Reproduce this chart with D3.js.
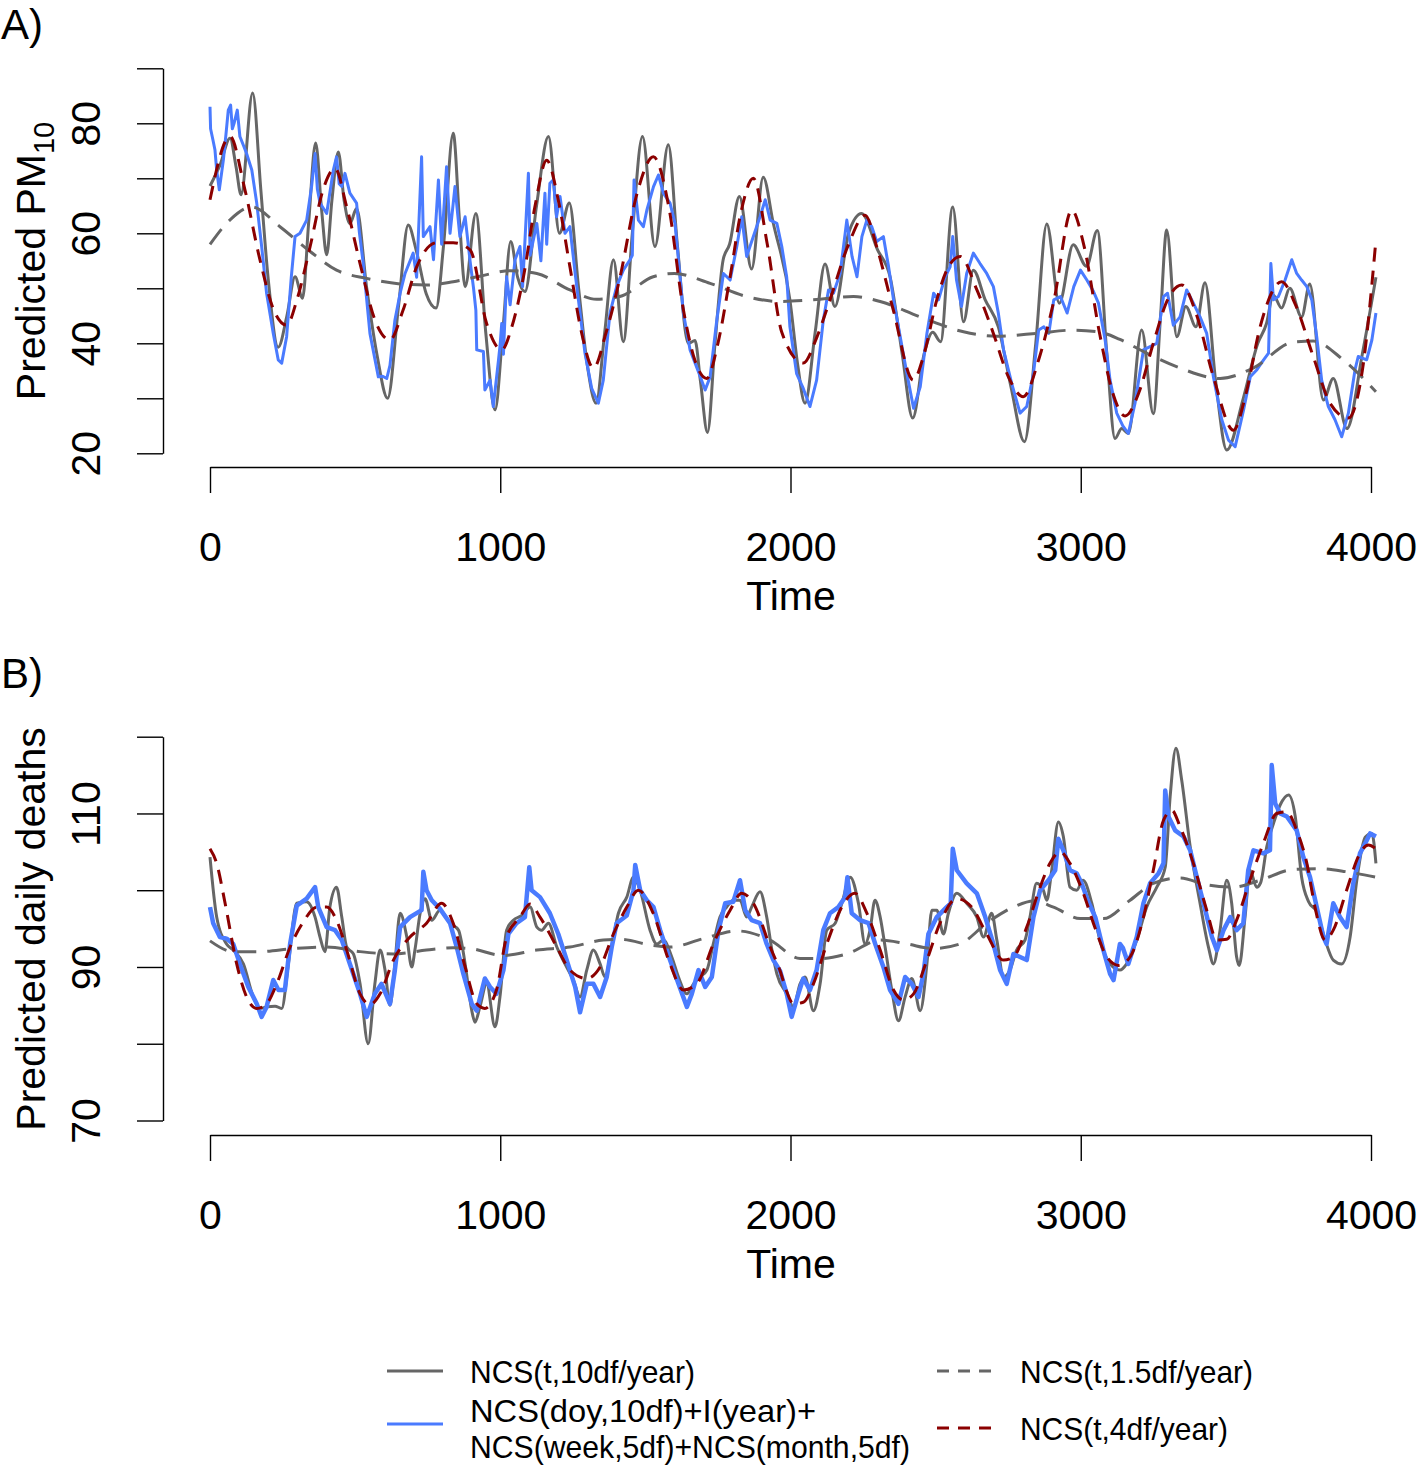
<!DOCTYPE html>
<html><head><meta charset="utf-8">
<script src="https://cdn.jsdelivr.net/npm/d3@7"></script>
<style>
body{margin:0;background:#fff}
svg{display:block}
text{font-family:"Liberation Sans",Arial,Helvetica,sans-serif;fill:#000}
</style>
</head><body>
<svg id="c" width="1418" height="1465"></svg>
<script>
// ---------------- DATA ----------------
const xTicks = [0, 1000, 2000, 3000, 4000];
const pmTicks = [20, 30, 40, 50, 60, 70, 80, 90];
const pmTickLabels = [20, 40, 60, 80];
const ddTicks = [70, 80, 90, 100, 110, 120];
const ddTickLabels = [70, 90, 110];

const seriesNames = ["NCS(t,10df/year)", "NCS(doy,10df)+I(year)+|NCS(week,5df)+NCS(month,5df)", "NCS(t,1.5df/year)", "NCS(t,4df/year)"];

// Panel A: predicted PM10
const pm_ncs10 = [[0,68.6],[35,72.5],[69,77.3],[90,72],[107,67.0],[147,85.5],[175,68],[200,52],[235,39.3],[265,45],[293,52.1],[319,48.2],[340,62],[364,76.4],[385,64],[402,56.1],[420,66],[442,74.8],[462,66],[482,61.8],[505,64.5],[540,50],[575,38],[612,30.0],[650,47],[683,61.5],[710,57],[745,49],[779,46.4],[805,58],[838,78.2],[860,62],[879,50.3],[916,63.6],[950,42],[982,27.9],[1010,43],[1036,58.5],[1060,52],[1085,49.4],[1125,65],[1166,77.6],[1204,60.0],[1238,65.5],[1270,50],[1300,36],[1330,29.1],[1360,42],[1390,55.2],[1424,40.3],[1455,60],[1490,77.6],[1533,57.6],[1579,76.1],[1610,58],[1648,40.0],[1671,40.5],[1690,33],[1714,23.8],[1740,40],[1768,55.2],[1790,58],[1824,66.7],[1866,53.5],[1906,70.2],[1940,62],[1998,47.9],[2025,36],[2050,29.1],[2085,42],[2119,54.4],[2153,46.7],[2200,60],[2245,63.6],[2300,57],[2343,52.1],[2385,38],[2421,26.4],[2460,38],[2490,42],[2517,40.3],[2559,64.8],[2596,43.9],[2630,53.3],[2670,48],[2716,43.0],[2760,32],[2806,22.1],[2845,40],[2883,61.7],[2926,47.3],[2974,57.9],[3020,54.0],[3057,60.5],[3090,38],[3118,22.7],[3141,24.5],[3164,23.6],[3210,42.4],[3250,27.2],[3275,45],[3296,60.6],[3331,41.2],[3362,46.7],[3397,43.0],[3428,51.0],[3465,33],[3503,20.6],[3560,30],[3610,40],[3640,43.6],[3663,48.8],[3692,46.4],[3720,50],[3761,44.8],[3789,50.8],[3836,29.7],[3870,33.6],[3917,24.5],[3970,38],[4017,52]];

const pm_doy = [[0,83.0],[2,79.0],[10,77],[17,75.2],[23,71.5],[32,67.9],[46,73.3],[55,78],[63,82.4],[71,83.3],[77,79],[83,80.0],[94,82.4],[103,77.6],[115,76],[126,74.5],[144,71.5],[161,65.5],[178,57.6],[195,49.1],[218,41.8],[235,37],[247,36.4],[264,41.2],[280,52],[293,59.4],[310,60.0],[333,62.4],[350,68.5],[362,74.5],[370,68],[379,65.5],[402,63.6],[425,71.5],[436,73.9],[445,69],[454,68.5],[465,70.9],[482,67.3],[505,65.5],[515,60],[528,54.5],[551,41.8],[580,33.9],[595,34],[609,33.6],[620,36],[637,44.2],[655,49.1],[672,52.7],[700,56.4],[712,52],[729,73.9],[735,59.4],[758,61.2],[770,55.2],[787,69.7],[798,58],[815,72.1],[827,60],[844,68.5],[861,59.4],[879,63.0],[896,55],[908,50],[916,46],[919,38.8],[942,38.5],[947,31.5],[965,33.3],[976,28.5],[994,37.0],[1000,40],[1005,43.6],[1011,38],[1022,52.1],[1034,47],[1051,55.2],[1068,57.6],[1077,50.3],[1097,70.9],[1103,56],[1126,61.8],[1140,55],[1154,67.3],[1160,58],[1171,69.1],[1183,69.7],[1194,63.0],[1206,66.7],[1223,60.0],[1240,61.2],[1258,52.7],[1275,45.5],[1292,38.2],[1315,31.8],[1338,29.1],[1355,33.3],[1378,45.5],[1401,50.3],[1424,53.3],[1447,55.2],[1455,56],[1461,69.7],[1476,62.4],[1493,61.2],[1505,64.2],[1528,68.5],[1545,70.6],[1562,67.3],[1585,65.5],[1602,61.8],[1614,55.2],[1631,45.5],[1654,38.8],[1683,34.8],[1706,31.5],[1723,33.9],[1746,44.2],[1769,52.7],[1792,51.5],[1815,57.6],[1832,63.0],[1849,55.8],[1872,59.4],[1895,63.0],[1913,66.1],[1930,62.4],[1953,61.8],[1970,57.6],[1987,52],[1998,43.0],[2021,34.5],[2044,31.8],[2067,28.5],[2090,33.3],[2113,44.2],[2131,49.7],[2148,49.1],[2171,52.7],[2194,62.4],[2212,55.8],[2229,52.1],[2246,59.4],[2263,62.4],[2280,61.2],[2297,58.5],[2320,59.4],[2338,53.9],[2355,47.9],[2378,41.2],[2401,34.5],[2424,28.2],[2447,32.1],[2470,41.8],[2493,49.1],[2510,47.9],[2533,52.1],[2550,53.9],[2559,59.4],[2572,51.5],[2589,46.7],[2607,52.7],[2630,56.4],[2653,54.5],[2676,52.7],[2699,50.3],[2716,45.5],[2734,38.8],[2762,32.7],[2791,27.3],[2814,28.5],[2837,34.5],[2855,42.4],[2873,43.0],[2890,41.8],[2907,47.9],[2930,48.5],[2953,45.5],[2976,50.3],[2999,53.3],[3021,51.5],[3044,49.4],[3061,47.3],[3084,40.6],[3101,33.3],[3124,27.3],[3145,25],[3164,23.6],[3187,29.1],[3216,38.8],[3239,39.4],[3262,40.0],[3285,48.5],[3299,49.1],[3319,43.3],[3342,44.8],[3365,49.7],[3388,47.3],[3411,44.8],[3434,41.8],[3457,33.9],[3486,26.1],[3509,22.4],[3532,21.2],[3561,27.9],[3584,33.9],[3607,35.2],[3630,37.0],[3647,38.2],[3655,54.5],[3664,47.9],[3681,48.5],[3704,51.5],[3727,55.2],[3744,52.7],[3761,51.5],[3779,50.3],[3796,47.9],[3813,41.2],[3830,33.3],[3853,28.5],[3876,26.1],[3899,23.0],[3922,27.3],[3945,35.2],[3956,37.6],[3985,37.0],[4003,40.6],[4017,45.5]];

const pm_ncs15 = [[0,58.0],[70,62.5],[144,64.8],[241,61.2],[345,56.7],[436,53.3],[540,51.8],[655,50.8],[746,50.6],[838,51.2],[930,52.2],[1033,53.2],[1126,52.7],[1240,49.7],[1332,48.0],[1412,48.5],[1527,52.1],[1600,52.7],[1723,50.9],[1849,48.5],[1963,47.6],[2079,47.9],[2217,48.5],[2309,47.6],[2446,44.8],[2596,42.1],[2710,41.3],[2848,41.8],[2974,42.4],[3060,42.1],[3135,40.7],[3227,38.2],[3342,35.5],[3480,33.6],[3594,35.5],[3732,40.2],[3801,40.4],[3904,37.0],[4017,31.2]];

const pm_ncs4 = [[0,66.1],[69,77.6],[120,68],[172,55.2],[220,46],[264,43.3],[300,48],[345,57.6],[390,68],[431,71.8],[470,65],[517,54.5],[570,44],[620,40.6],[665,46],[712,53.9],[781,58.3],[838,58.3],[896,57.0],[953,43.6],[1005,38.8],[1040,43],[1080,52.1],[1120,65],[1160,73.3],[1200,66],[1240,53.9],[1280,42],[1321,35.5],[1365,42],[1413,52.1],[1470,67],[1528,73.9],[1580,65],[1631,46.1],[1670,37],[1711,33.6],[1750,40],[1792,52.1],[1830,64],[1872,70.0],[1920,58],[1970,42],[2044,36.4],[2090,41],[2136,47.9],[2200,58],[2257,63.3],[2300,57],[2354,46.1],[2423,33.3],[2460,38],[2504,47.9],[2545,54],[2585,55.8],[2640,50],[2699,41.8],[2750,34],[2802,30.3],[2855,37],[2908,47.9],[2969,64.2],[3010,58],[3066,41.5],[3110,31],[3153,26.8],[3200,31],[3250,40.0],[3300,48],[3348,50.6],[3400,45],[3457,33.9],[3526,24.2],[3570,31],[3618,43.0],[3692,51.2],[3740,47],[3801,37.6],[3860,29],[3922,26.4],[3970,35],[4017,58.8]];

// Panel B: predicted daily deaths
const dd_ncs10 = [[0,104.3],[23,96.5],[57,93.0],[80,92.2],[115,90.4],[149,86.1],[172,84.6],[195,84.8],[224,84.9],[247,84.6],[270,90.4],[299,98.3],[333,98.5],[362,96.5],[379,93.9],[396,92.0],[413,97.8],[436,100.4],[454,96.5],[471,92.6],[494,91.7],[517,87.8],[545,80.0],[568,87.8],[586,92.2],[603,89.6],[620,85.0],[637,90.4],[655,97.0],[678,93.9],[695,90.0],[706,92.2],[724,97.0],[741,98.9],[764,96.1],[792,97.4],[827,95.7],[856,94.8],[879,90.4],[902,84.3],[913,82.8],[930,84.8],[953,87.8],[982,82.2],[999,86.1],[1022,94.8],[1045,96.1],[1074,96.7],[1103,97.8],[1126,95.2],[1143,94.8],[1166,95.7],[1195,92.6],[1223,90.4],[1252,88.3],[1275,86.1],[1298,89.6],[1321,92.2],[1344,90.4],[1361,88.7],[1384,92.6],[1407,97.0],[1436,99.1],[1459,101.7],[1482,100.0],[1516,94.8],[1539,93.0],[1562,93.5],[1591,91.3],[1614,88.7],[1643,86.5],[1666,87.8],[1688,88.7],[1712,89.6],[1734,93.0],[1757,96.5],[1780,97.8],[1803,98.7],[1826,98.7],[1849,96.5],[1866,97.8],[1895,99.8],[1918,96.5],[1936,92.2],[1953,89.1],[1987,86.5],[2010,84.8],[2033,87.8],[2050,88.7],[2079,84.3],[2102,87.8],[2125,94.8],[2154,95.7],[2177,98.3],[2206,101.7],[2234,98.3],[2257,93.0],[2274,94.8],[2291,98.7],[2309,96.5],[2326,92.6],[2349,87.0],[2372,83.0],[2395,86.1],[2418,88.5],[2447,84.3],[2470,90.4],[2487,97.4],[2504,97.4],[2527,94.3],[2544,97.0],[2573,99.6],[2607,98.3],[2642,96.5],[2665,93.9],[2693,97.0],[2711,93.5],[2734,88.7],[2756,89.6],[2779,92.2],[2808,93.5],[2825,96.5],[2848,100.9],[2871,100.0],[2883,98.7],[2900,102.6],[2923,108.9],[2940,107.0],[2963,100.4],[2986,100.0],[3008,101.3],[3038,98.3],[3066,93.5],[3101,90.4],[3135,89.6],[3158,90.4],[3193,93.5],[3227,97.8],[3262,100.4],[3291,103.0],[3308,112.2],[3328,118.5],[3348,114.3],[3377,105.7],[3411,98.3],[3440,92.6],[3457,90.4],[3480,94.8],[3503,101.3],[3520,98.3],[3537,91.3],[3546,90.2],[3566,96.5],[3583,102.6],[3606,100.4],[3620,101],[3641,105.7],[3664,108.7],[3687,111.1],[3716,112.4],[3739,109.6],[3761,101.7],[3785,98.5],[3813,97.2],[3842,93.5],[3870,90.9],[3899,90.4],[3928,93.9],[3951,101.3],[3980,106.9],[4003,107.4],[4017,103.5]];

const dd_doy = [[0,97.8],[11,95.7],[34,93.9],[57,93.7],[80,93.0],[103,90.4],[132,87.4],[161,85.2],[178,83.5],[195,84.8],[218,88.3],[236,87.0],[258,87.0],[276,93.0],[299,98.0],[333,98.9],[362,100.4],[373,97.8],[402,95.2],[431,94.8],[454,93.5],[482,90.4],[517,86.5],[540,83.5],[568,86.5],[591,87.8],[620,85.2],[637,89.6],[655,95.2],[689,96.5],[729,97.4],[735,102.4],[746,100.0],[764,98.7],[792,97.6],[827,95.7],[850,92.6],[873,89.1],[902,85.2],[919,84.3],[947,88.5],[965,87.4],[987,86.5],[1011,89.6],[1028,94.3],[1056,95.7],[1085,96.5],[1100,103.0],[1108,100.0],[1137,99.1],[1171,97.0],[1200,94.3],[1229,90.9],[1258,87.4],[1275,84.1],[1298,87.8],[1321,87.8],[1344,86.1],[1367,88.7],[1384,92.6],[1401,95.7],[1436,96.7],[1459,100.0],[1465,103.3],[1482,100.0],[1505,98.7],[1528,97.8],[1551,94.8],[1585,90.9],[1614,87.8],[1643,84.8],[1660,86.5],[1683,89.6],[1706,87.4],[1729,88.7],[1752,94.8],[1775,98.3],[1803,98.5],[1826,101.3],[1844,97.4],[1866,96.1],[1895,95.7],[1918,93.0],[1941,90.9],[1964,89.5],[1987,86.5],[2004,83.5],[2027,86.5],[2044,88.5],[2067,87.0],[2090,89.6],[2113,94.8],[2136,97.0],[2165,97.8],[2188,99.1],[2196,101.7],[2211,97.0],[2240,96.1],[2269,95.7],[2292,93.0],[2320,90.0],[2343,87.0],[2372,85.2],[2395,88.7],[2418,87.8],[2441,86.1],[2458,89.1],[2475,94.3],[2504,96.5],[2538,97.8],[2552,98.3],[2559,105.4],[2573,102.6],[2607,100.9],[2642,99.6],[2671,96.5],[2699,93.0],[2722,89.6],[2745,87.8],[2768,91.7],[2791,91.3],[2814,90.9],[2837,96.5],[2860,100.0],[2889,101.3],[2912,102.6],[2923,106.7],[2940,105.2],[2963,102.6],[2986,102.2],[3003,100.9],[3026,98.5],[3050,96.5],[3078,92.2],[3101,89.1],[3113,88.3],[3135,93.0],[3145,92.5],[3164,90.4],[3193,93.9],[3216,98.3],[3239,100.9],[3268,102.2],[3285,103.5],[3291,113.0],[3302,109.6],[3325,107.8],[3354,107.0],[3377,105.2],[3400,101.7],[3429,97.4],[3452,93.9],[3469,92.2],[3492,94.8],[3515,96.5],[3537,94.8],[3560,95.7],[3577,102.6],[3595,105.2],[3629,104.8],[3652,105.2],[3658,116.3],[3670,111.3],[3687,110.0],[3710,109.6],[3744,107.8],[3767,104.3],[3790,101.7],[3813,97.8],[3836,93.9],[3847,93.0],[3870,98.3],[3893,96.5],[3916,95.2],[3939,100.9],[3962,104.8],[3980,106.1],[3997,107.4],[4017,107.0]];

const dd_ncs15 = [[0,93.4],[80,92.0],[172,92.0],[287,92.4],[402,92.6],[517,92.0],[632,91.7],[746,92.2],[838,92.5],[896,92.4],[1011,91.5],[1126,92.2],[1240,92.6],[1355,93.5],[1413,93.6],[1527,92.8],[1585,92.6],[1700,93.7],[1815,94.7],[1930,93.5],[2033,91.1],[2102,91.1],[2194,91.7],[2309,93.5],[2401,93.0],[2492,92.4],[2584,93.0],[2676,95.7],[2768,97.8],[2837,98.6],[2906,97.8],[2998,96.3],[3078,96.3],[3170,98.7],[3250,100.9],[3342,101.6],[3434,100.7],[3526,100.4],[3618,101.3],[3732,102.7],[3824,102.8],[3916,102.4],[4017,101.7]];

const dd_ncs4 = [[0,105.4],[23,103.5],[52,98.3],[92,90.4],[126,86.1],[161,84.6],[195,85.2],[230,87.8],[276,92.6],[322,95.9],[367,97.8],[402,97.8],[436,96.1],[471,92.2],[517,86.5],[551,85.1],[586,86.5],[632,90.9],[689,93.9],[746,95.7],[798,98.3],[838,95.7],[879,90.0],[919,85.2],[947,84.6],[987,87.0],[1022,93.9],[1068,96.5],[1103,98.2],[1137,96.5],[1195,92.6],[1240,89.6],[1298,88.5],[1344,90.0],[1390,94.3],[1436,97.8],[1476,100.0],[1527,97.0],[1585,90.4],[1631,87.0],[1677,87.8],[1734,93.0],[1792,97.4],[1832,99.6],[1872,98.3],[1930,92.6],[1964,89.5],[1987,86.8],[2010,85.2],[2044,85.4],[2079,87.8],[2125,93.0],[2171,97.4],[2222,99.6],[2263,97.0],[2309,92.2],[2355,87.0],[2389,85.7],[2424,86.5],[2470,90.9],[2515,95.7],[2573,98.9],[2624,97.8],[2676,94.3],[2734,90.9],[2768,91.3],[2814,95.2],[2860,100.4],[2894,103.5],[2929,105.0],[2963,103.5],[3009,99.6],[3050,95],[3090,91.3],[3130,90.2],[3170,91.3],[3216,96.5],[3250,102.6],[3285,109.1],[3314,110.4],[3342,108.3],[3388,103.5],[3434,97.4],[3469,93.5],[3503,93.6],[3537,96.1],[3583,101.3],[3629,106.1],[3675,110.0],[3710,110.2],[3744,107.8],[3779,103.5],[3807,97.8],[3842,93.5],[3870,94.8],[3916,100.0],[3962,104.8],[3991,105.9],[4017,105.4]];

// ---------------- DRAWING ----------------
const COL_GRAY = "#666666", COL_BLUE = "#4A7BFF", COL_RED = "#8B0000";
const DASH_GRAY = "19,11", DASH_RED = "14,9";
const FONT = 41;

const svg = d3.select("#c");
svg.append("rect").attr("width",1418).attr("height",1465).attr("fill","#fff");

const x = d3.scaleLinear().domain([0, 4000]).range([210, 1371]);

function panel(o) {
  const y = d3.scaleLinear().domain(o.yDomain).range(o.yRange);
  const g = svg.append("g");

  // panel letter
  g.append("text").attr("x", 1).attr("y", o.letterY).attr("font-size", 42).text(o.letter);

  const smooth = d3.line().x(d => x(d[0])).y(d => y(d[1])).curve(d3.curveMonotoneX);
  const jag = d3.line().x(d => x(d[0])).y(d => y(d[1])).curve(d3.curveLinear);

  const lines = g.append("g").attr("fill", "none").attr("stroke-linejoin", "round");
  lines.append("path").attr("d", smooth(o.s10)).attr("stroke", COL_GRAY).attr("stroke-width", 3);
  lines.append("path").attr("d", jag(o.sdoy)).attr("stroke", COL_BLUE).attr("stroke-width", o.blueW);
  lines.append("path").attr("d", smooth(o.s15)).attr("stroke", COL_GRAY).attr("stroke-width", 3).attr("stroke-dasharray", DASH_GRAY);
  lines.append("path").attr("d", smooth(o.s4)).attr("stroke", COL_RED).attr("stroke-width", 3).attr("stroke-dasharray", DASH_RED);

  // x axis
  const xa = g.append("g").attr("transform", `translate(0,${o.xAxisY})`)
    .call(d3.axisBottom(x).tickValues(xTicks).tickSize(26).tickSizeOuter(0).tickFormat(d3.format("d")));
  xa.select(".domain").attr("stroke", "#000").attr("stroke-width", 1.4);
  xa.selectAll(".tick line").attr("stroke", "#000").attr("stroke-width", 1.4);
  xa.selectAll(".tick text").attr("y", 94).attr("dy", 0).attr("font-size", FONT)
    .attr("font-family", "Liberation Sans, Arial, sans-serif").attr("fill", "#000");

  // y axis
  const ya = g.append("g").attr("transform", "translate(163,0)")
    .call(d3.axisLeft(y).tickValues(o.yTicks).tickSize(26).tickSizeOuter(0)
      .tickFormat(d => o.yLabels.includes(d) ? String(d) : ""));
  ya.select(".domain").attr("stroke", "#000").attr("stroke-width", 1.4);
  ya.selectAll(".tick line").attr("stroke", "#000").attr("stroke-width", 1.4);
  ya.selectAll(".tick text").attr("x", 0).attr("dy", 0).attr("text-anchor", "middle")
    .attr("transform", "translate(-63,0) rotate(-90)").attr("font-size", FONT)
    .attr("font-family", "Liberation Sans, Arial, sans-serif").attr("fill", "#000");

  // axis titles
  g.append("text").attr("x", 791).attr("y", o.xAxisY + 143).attr("text-anchor", "middle")
    .attr("font-size", FONT).text("Time");
  const yt = g.append("text").attr("text-anchor", "middle").attr("font-size", FONT)
    .attr("transform", `translate(45,${o.yTitleY}) rotate(-90)`);
  yt.append("tspan").text(o.yTitle);
  if (o.yTitleSub) yt.append("tspan").attr("font-size", 29).attr("dy", "0.32em").text(o.yTitleSub);
}

panel({letter: "A)", letterY: 39, yDomain: [20, 90], yRange: [453.3, 68.3], yTicks: pmTicks, yLabels: pmTickLabels,
  xAxisY: 467, yTitle: "Predicted PM", yTitleSub: "10", yTitleY: 261, blueW: 3,
  s10: pm_ncs10, sdoy: pm_doy, s15: pm_ncs15, s4: pm_ncs4});

panel({letter: "B)", letterY: 688, yDomain: [70, 120], yRange: [1120.5, 736.7], yTicks: ddTicks, yLabels: ddTickLabels,
  xAxisY: 1135, yTitle: "Predicted daily deaths", yTitleSub: null, yTitleY: 929, blueW: 4.5,
  s10: dd_ncs10, sdoy: dd_doy, s15: dd_ncs15, s4: dd_ncs4});

// ---------------- LEGEND ----------------
const leg = svg.append("g");
const LFS = 32;
const legendItems = [
  {name: seriesNames[0], col: COL_GRAY, dash: null, x1: 387, x2: 443, ly: 1371, tx: 470, lines: [1371], lens: [225]},
  {name: seriesNames[1], col: COL_BLUE, dash: null, x1: 387, x2: 443, ly: 1424, tx: 470, lines: [1410, 1446], lens: [346, 440]},
  {name: seriesNames[2], col: COL_GRAY, dash: "12,9", x1: 937, x2: 995, ly: 1371, tx: 1020, lines: [1371], lens: [233]},
  {name: seriesNames[3], col: COL_RED, dash: "12,9", x1: 937, x2: 995, ly: 1428, tx: 1020, lines: [1428], lens: [208]}
];
legendItems.forEach(it => {
  const ln = leg.append("line").attr("x1", it.x1).attr("x2", it.x2).attr("y1", it.ly).attr("y2", it.ly)
    .attr("stroke", it.col).attr("stroke-width", 3);
  if (it.dash) ln.attr("stroke-dasharray", it.dash);
  const parts = it.name.split("|");
  parts.forEach((p, i) => {
    leg.append("text").attr("x", it.tx).attr("y", it.lines[i]).attr("dy", "0.36em")
      .attr("font-size", LFS).attr("textLength", it.lens[i]).attr("lengthAdjust", "spacingAndGlyphs").text(p);
  });
});
</script>
</body></html>
